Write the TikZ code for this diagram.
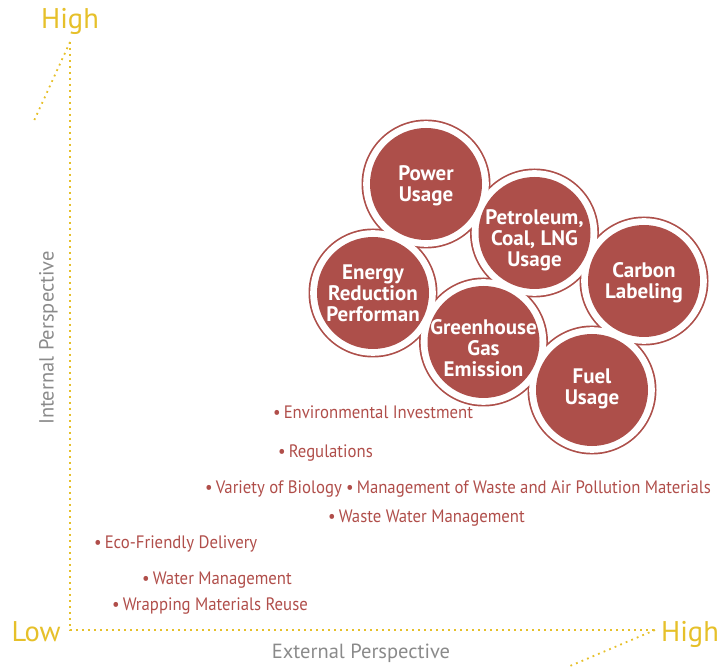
\documentclass[tikz,border=0pt]{standalone}
\usepackage{fontspec}
\setmainfont{PT Sans}
\definecolor{brick}{HTML}{AD4F4A}
\definecolor{brtext}{HTML}{B04E4A}
\definecolor{gold}{HTML}{E6C02A}
\definecolor{greytxt}{HTML}{8A8A8A}
\tikzset{
  bubble/.style={circle, fill=brick, inner sep=0pt, minimum size=112pt},
  bubbletext/.style={text=white, inner sep=0pt, align=center,
    font=\bfseries\fontsize{21}{21}\selectfont},
  item/.style={anchor=west, inner sep=0pt, text=brtext,
    font=\addfontfeature{FakeStretch=0.93}\fontsize{18}{20}\selectfont},
  axisline/.style={gold, line width=1.8pt, dash pattern=on 1.8pt off 4.2pt},
  axistext/.style={text=gold, inner sep=0pt, font=\fontsize{28.5}{30}\selectfont},
  perspective/.style={text=greytxt, inner sep=0pt, font=\fontsize{20.5}{22}\selectfont}
}
\begin{document}
\begin{tikzpicture}[x=1pt,y=-1pt]
\useasboundingbox (0,0) rectangle (726,668);
% axes
\coordinate (ytop) at (70,42);
\coordinate (orig) at (70,630);
\coordinate (xend) at (655,630);
\coordinate (ydiag) at (33,123);
\coordinate (xdiag) at (570,666);
\draw[axisline] (ytop) -- (orig) -- (xend);
\draw[axisline] (ytop) -- (ydiag);
\draw[axisline] (xend) -- (xdiag);
\node[axistext] (hy) at (70,21) {High};
\node[axistext] (hx) at (690,634) {High};
\node[axistext] (lo) at (36,632) {Low};
\node[perspective, rotate=90] (ip) at (48.5,338) {Internal Perspective};
\node[perspective] (ep) at (361,653) {External Perspective};
% circle centres
\coordinate (cPow) at (426,184);
\coordinate (cPet) at (534.5,233);
\coordinate (cCar) at (644,281);
\coordinate (cEne) at (373,293);
\coordinate (cGre) at (483.5,342);
\coordinate (cFue) at (592,390);
\foreach \c in {cPow,cPet,cCar,cEne,cGre,cFue}
  \fill[brick] (\c) circle[radius=64.5pt];
\foreach \c in {cPow,cPet,cCar,cEne,cGre,cFue}
  \fill[white] (\c) circle[radius=62.8pt];
\node[bubble] (pow) at (cPow) {};
\node[bubble] (pet) at (cPet) {};
\node[bubble] (car) at (cCar) {};
\node[bubble] (ene) at (cEne) {};
\node[bubble] (gre) at (cGre) {};
\node[bubble] (fue) at (cFue) {};
\node[bubbletext] (powt) at (426,186) {Power\\Usage};
\node[bubbletext] (pett) at (534.5,240) {Petroleum,\\Coal, LNG\\Usage};
\node[bubbletext] (cart) at (644,283) {Carbon\\Labeling};
\node[bubbletext] (enet) at (373,293) {Energy\\Reduction\\Performan};
\node[bubbletext] (gret) at (483.5,348) {Greenhouse\\Gas\\Emission};
\node[bubbletext] (fuet) at (592,389) {Fuel\\Usage};
% items
\node[item] (i1) at (273,412) {\textbullet\,Environmental Investment};
\node[item] (i2) at (278,453) {\textbullet\,Regulations};
\node[item] (i3) at (205,489) {\textbullet\,Variety of Biology};
\node[item] (i4) at (346,489) {\textbullet\,Management of Waste and Air Pollution Materials};
\node[item] (i5) at (328,518) {\textbullet\,Waste Water Management};
\node[item] (i6) at (94,544) {\textbullet\,Eco-Friendly Delivery};
\node[item] (i7) at (142,580) {\textbullet\,Water Management};
\node[item] (i8) at (112,606) {\textbullet\,Wrapping Materials Reuse};
\end{tikzpicture}
\end{document}
